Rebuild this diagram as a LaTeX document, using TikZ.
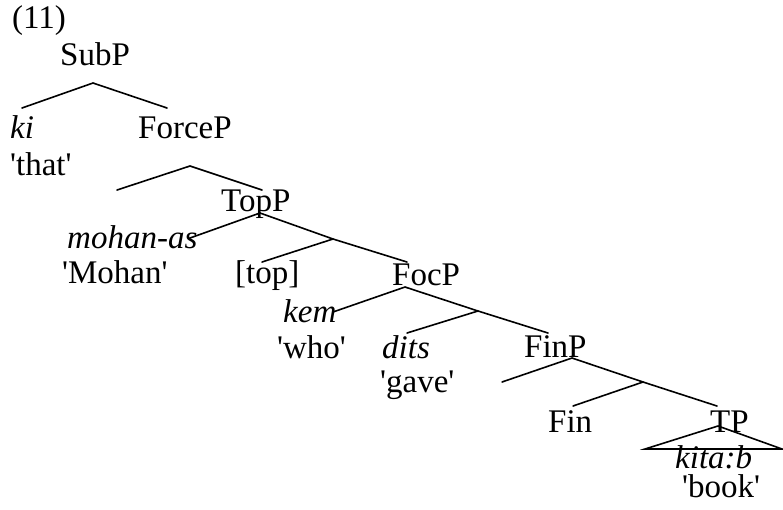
\documentclass[tikz,border=0pt]{standalone}
\usepackage{fontspec}
\setmainfont{Liberation Serif}
% straight single quote for glosses
\newcommand{\sq}{\textquotesingle}
\begin{document}
\begin{tikzpicture}[x=1pt,y=-1pt,
  word/.style={anchor=base west,inner sep=0pt,font=\fontsize{33}{38}\selectfont},
  obj/.style={word,font=\fontsize{33}{38}\selectfont\itshape},
  branch/.style={line width=1.6pt,line cap=round}]
\useasboundingbox (0,0) rectangle (783,509);

% labels
\node[word] (ex)     at (12,28)   {(11)};
\node[word] (subp)   at (60,65)   {SubP};
\node[obj]  (ki)     at (10,138)  {ki};
\node[word] (forcep) at (138,138) {ForceP};
\node[word] (that)   at (10,175)  {\sq that\sq};
\node[word] (topp)   at (221,211) {TopP};
\node[obj]  (mohan)  at (67,248)  {mohan-as};
\node[word] (mohang) at (62,283)  {\sq Mohan\sq};
\node[word] (top)    at (235,283) {[top]};
\node[word] (focp)   at (392,285) {FocP};
\node[obj]  (kem)    at (283,322) {kem};
\node[word] (who)    at (277,358) {\sq who\sq};
\node[obj]  (dits)   at (382,358) {dits};
\node[word] (gave)   at (380,392) {\sq gave\sq};
\node[word] (finp)   at (524,357) {FinP};
\node[word] (fin)    at (548,432) {Fin};
\node[word] (tp)     at (710,432) {TP};
\node[obj]  (kitab)  at (675,468) {kita:b};
\node[word] (book)   at (682,497) {\sq book\sq};

% branching points
\coordinate (subp-a)  at (93,83);
\coordinate (subp-l)  at (22,108);
\coordinate (subp-r)  at (167,108);
\coordinate (force-a) at (190,166);
\coordinate (force-l) at (117,190);
\coordinate (force-r) at (262,190);
\coordinate (top-a)   at (260,213);
\coordinate (top-l)   at (190,238);
\coordinate (top-m)   at (333,239);
\coordinate (top-ml)  at (262,262);
\coordinate (top-r)   at (407,262);
\coordinate (foc-a)   at (405,287);
\coordinate (foc-l)   at (333,312);
\coordinate (foc-m)   at (478,311);
\coordinate (foc-ml)  at (407,333);
\coordinate (foc-r)   at (548,333);
\coordinate (fin-a)   at (572,358);
\coordinate (fin-l)   at (502,382);
\coordinate (fin-m)   at (643,382);
\coordinate (fin-ml)  at (573,406);
\coordinate (fin-r)   at (717,406);
\coordinate (tp-a)    at (718,426);
\coordinate (tp-bl)   at (645,449);
\coordinate (tp-br)   at (782,449);

% branches
\draw[branch] (subp-l) -- (subp-a) -- (subp-r);
\draw[branch] (force-l) -- (force-a) -- (force-r);
\draw[branch] (top-l) -- (top-a) -- (top-m) -- (top-r);
\draw[branch] (top-m) -- (top-ml);
\draw[branch] (foc-l) -- (foc-a) -- (foc-m) -- (foc-r);
\draw[branch] (foc-m) -- (foc-ml);
\draw[branch] (fin-l) -- (fin-a) -- (fin-m) -- (fin-r);
\draw[branch] (fin-m) -- (fin-ml);
\draw[branch,line join=miter] (tp-a) -- (tp-bl) -- (tp-br) -- cycle;
\end{tikzpicture}
\end{document}
